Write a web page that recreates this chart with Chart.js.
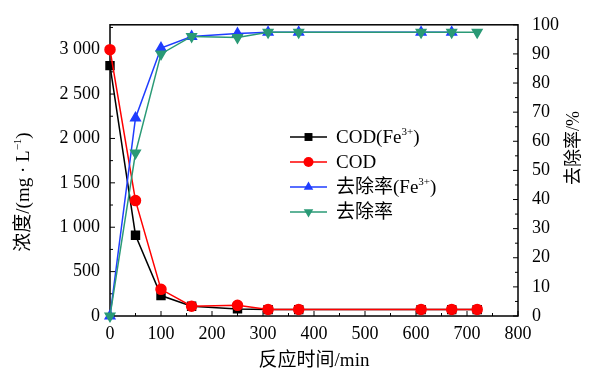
<!DOCTYPE html>
<html>
<head>
<meta charset="utf-8">
<script src="https://cdn.jsdelivr.net/npm/chart.js@4.4.0/dist/chart.umd.min.js"></script>
<style>
  html, body { margin: 0; padding: 0; background: #fff; }
  #wrap { width: 592px; height: 376px; }
</style>
</head>
<body>
<div id="wrap"><canvas id="c" width="592" height="376"></canvas></div>
<script>
// reaction time (min) and values
const timeCodFe = [0, 50, 100, 160, 250, 310, 370, 610, 670, 720];
const codFe = [2820, 910, 230, 110, 80, 72, 72, 72, 72, 72];
const timeCod = [0, 50, 100, 160, 250, 310, 370, 610, 670, 720];
const cod = [3000, 1300, 300, 110, 120, 74, 74, 74, 74, 74];
const timeRateFe = [0, 50, 100, 160, 250, 310, 370, 610, 670];
const rateFe = [0, 68, 92, 96, 97, 97.4, 97.4, 97.4, 97.4];
const timeRate = [0, 50, 100, 160, 250, 310, 370, 610, 670, 720];
const rate = [0, 56, 90, 96, 95.6, 97.4, 97.4, 97.4, 97.4, 97.4];

const seriesNames = ['COD(Fe^{3+})', 'COD', '去除率(Fe^{3+})', '去除率'];
const xTicks = [0, 100, 200, 300, 400, 500, 600, 700, 800];
const leftTicks = [0, 500, 1000, 1500, 2000, 2500, 3000];
const rightTicks = [0, 10, 20, 30, 40, 50, 60, 70, 80, 90, 100];

const FONT = "'Liberation Serif', 'Noto Sans CJK SC', serif";

function pts(xs, ys) {
  return xs.map((x, i) => ({ x: x, y: ys[i] }));
}

function fmtThousands(v) {
  if (v < 1000) return String(v);
  const s = String(v);
  return s.slice(0, s.length - 3) + ' ' + s.slice(-3);
}

// draw text with ^{...} superscripts
function richText(ctx, text, x, y, size) {
  const parts = text.split(/(\^\{[^}]*\})/).filter(p => p.length);
  let cx = x;
  parts.forEach(p => {
    if (p.startsWith('^{')) {
      const t = p.slice(2, -1);
      ctx.font = Math.round(size * 0.6) + 'px ' + FONT;
      ctx.fillText(t, cx, y - size * 0.33);
      cx += ctx.measureText(t).width;
    } else {
      ctx.font = size + 'px ' + FONT;
      ctx.fillText(p, cx, y);
      cx += ctx.measureText(p).width;
    }
  });
  return cx - x;
}
function richWidth(ctx, text, size) {
  const parts = text.split(/(\^\{[^}]*\})/).filter(p => p.length);
  let w = 0;
  parts.forEach(p => {
    if (p.startsWith('^{')) {
      ctx.font = Math.round(size * 0.6) + 'px ' + FONT;
      w += ctx.measureText(p.slice(2, -1)).width;
    } else {
      ctx.font = size + 'px ' + FONT;
      w += ctx.measureText(p).width;
    }
  });
  return w;
}

const framePlugin = {
  id: 'frame',
  beforeDatasetsDraw(chart) {
    const ctx = chart.ctx;
    const a = chart.chartArea;
    const sx = chart.scales.x, yl = chart.scales.yL, yr = chart.scales.yR;
    ctx.save();
    ctx.strokeStyle = '#000';
    ctx.lineWidth = 1.5;
    ctx.strokeRect(a.left, a.top, a.right - a.left, a.bottom - a.top);
    ctx.lineWidth = 1;
    ctx.beginPath();
    // bottom axis ticks pointing inward
    for (let v = 0; v <= 800; v += 50) {
      const px = sx.getPixelForValue(v);
      const len = v % 100 === 0 ? 5 : 3;
      ctx.moveTo(px, a.bottom);
      ctx.lineTo(px, a.bottom - len);
    }
    for (let v = 0; v <= 3250; v += 250) {
      const py = yl.getPixelForValue(v);
      const len = v % 500 === 0 ? 5 : 3;
      ctx.moveTo(a.left, py);
      ctx.lineTo(a.left + len, py);
    }
    for (let v = 0; v <= 100; v += 5) {
      const py = yr.getPixelForValue(v);
      const len = v % 10 === 0 ? 5 : 3;
      ctx.moveTo(a.right, py);
      ctx.lineTo(a.right - len, py);
    }
    ctx.stroke();
    ctx.restore();
  },
  afterDraw(chart) {
    const ctx = chart.ctx;
    const a = chart.chartArea;
    ctx.save();
    ctx.fillStyle = '#000';
    ctx.textBaseline = 'middle';
    // axis titles
    ctx.textAlign = 'left';
    ctx.font = '19px ' + FONT;
    const xt = '反应时间/min';
    const xw = ctx.measureText(xt).width;
    ctx.fillText(xt, (a.left + a.right) / 2 - xw / 2, 361);

    const lt = '浓度/(mg · L^{−1})';
    ctx.save();
    ctx.translate(24, 192);
    ctx.rotate(-Math.PI / 2);
    richText(ctx, lt, -richWidth(ctx, lt, 19) / 2, 0, 19);
    ctx.restore();

    const rt = '去除率/%';
    ctx.save();
    ctx.translate(574, 148);
    ctx.rotate(-Math.PI / 2);
    richText(ctx, rt, -richWidth(ctx, rt, 18) / 2, 0, 18);
    ctx.restore();

    // legend with line + marker
    const metas = chart.data.datasets.map((d, i) => chart.getDatasetMeta(i));
    const rows = [137, 162, 187, 212];
    chart.data.datasets.forEach((ds, i) => {
      const y = rows[i];
      ctx.strokeStyle = ds.borderColor;
      ctx.lineWidth = 1.5;
      ctx.beginPath();
      ctx.moveTo(290, y);
      ctx.lineTo(327, y);
      ctx.stroke();
      ctx.fillStyle = ds.pointBackgroundColor;
      Chart.helpers.drawPoint(ctx, {
        pointStyle: ds.pointStyle, radius: ds.pointRadius,
        rotation: ds.pointRotation || 0, borderWidth: 0
      }, 308.5, y);
      ctx.fillStyle = '#000';
      richText(ctx, seriesNames[i], 336, y + 1, 19);
    });
    ctx.restore();
  }
};

new Chart(document.getElementById('c').getContext('2d'), {
  type: 'line',
  data: {
    datasets: [
      {
        label: seriesNames[0], data: pts(timeCodFe, codFe), yAxisID: 'yL',
        borderColor: '#000000', pointBackgroundColor: '#000000', pointBorderColor: '#000000',
        pointStyle: 'rect', pointRadius: 5.6, borderWidth: 1.5, order: 4, clip: false
      },
      {
        label: seriesNames[1], data: pts(timeCod, cod), yAxisID: 'yL',
        borderColor: '#ff0000', pointBackgroundColor: '#ff0000', pointBorderColor: '#ff0000',
        pointStyle: 'circle', pointRadius: 5, borderWidth: 1.5, order: 3, clip: false
      },
      {
        label: seriesNames[2], data: pts(timeRateFe, rateFe), yAxisID: 'yR',
        borderColor: '#1f3dff', pointBackgroundColor: '#1f3dff', pointBorderColor: '#1f3dff',
        pointStyle: 'triangle', pointRadius: 5.5, borderWidth: 1.5, order: 2, clip: false
      },
      {
        label: seriesNames[3], data: pts(timeRate, rate), yAxisID: 'yR',
        borderColor: '#2a9a76', pointBackgroundColor: '#2a9a76', pointBorderColor: '#2a9a76',
        pointStyle: 'triangle', pointRotation: 180, pointRadius: 5.5, borderWidth: 1.5, order: 1, clip: false
      }
    ]
  },
  options: {
    responsive: false,
    animation: false,
    devicePixelRatio: 1,
    layout: { padding: { top: 16, left: 0, right: 0, bottom: 0 } },
    plugins: { legend: { display: false }, tooltip: { enabled: false } },
    elements: { line: { tension: 0 }, point: { borderWidth: 0 } },
    scales: {
      x: {
        type: 'linear', min: 0, max: 800,
        afterBuildTicks: s => { s.ticks = xTicks.map(v => ({ value: v })); },
        afterFit: s => { s.height = 60; },
        grid: { display: false, drawTicks: false },
        border: { display: false },
        ticks: { color: '#000', padding: 7, font: { family: FONT, size: 18 }, maxRotation: 0 }
      },
      yL: {
        type: 'linear', position: 'left', min: 0, max: 3280,
        afterBuildTicks: s => { s.ticks = leftTicks.map(v => ({ value: v })); },
        afterFit: s => { s.width = 110; },
        grid: { display: false, drawTicks: false },
        border: { display: false },
        ticks: { color: '#000', padding: 10, font: { family: FONT, size: 18 }, callback: v => fmtThousands(v) }
      },
      yR: {
        type: 'linear', position: 'right', min: 0, max: 100,
        afterBuildTicks: s => { s.ticks = rightTicks.map(v => ({ value: v })); },
        afterFit: s => { s.width = 74; },
        grid: { display: false, drawTicks: false },
        border: { display: false },
        ticks: { color: '#000', padding: 14, font: { family: FONT, size: 18 } }
      }
    }
  },
  plugins: [framePlugin]
});
</script>
</body>
</html>
